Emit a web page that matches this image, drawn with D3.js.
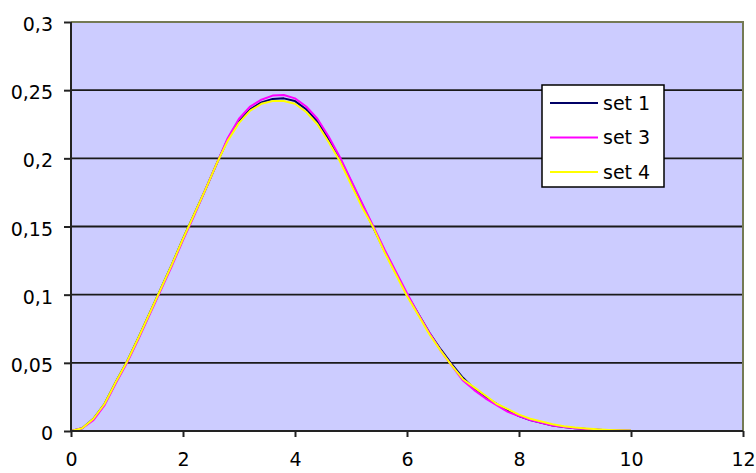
<!DOCTYPE html>
<html>
<head>
<meta charset="utf-8">
<script src="https://cdn.jsdelivr.net/npm/d3@7"></script>
<style>
  html, body { margin: 0; padding: 0; background: #ffffff; }
  svg { display: block; }
  text { font-family: "DejaVu Sans", Verdana, sans-serif; fill: #000; }
</style>
</head>
<body>
<svg id="chart" width="756" height="473"></svg>
<script>
// ---- data ----
const xValues = [0,0.2,0.4,0.6,0.8,1.0,1.2,1.4,1.6,1.8,2.0,2.2,2.4,2.6,2.8,3.0,3.2,3.4,3.6,3.8,4.0,4.2,4.4,4.6,4.8,5.0,5.2,5.4,5.6,5.8,6.0,6.2,6.4,6.6,6.8,7.0,7.2,7.4,7.6,7.8,8.0,8.2,8.4,8.6,8.8,9.0,9.2,9.4,9.6,9.8,10.0];
const set1 = [0,0.002,0.009,0.020,0.036,0.051,0.068,0.086,0.104,0.122,0.141,0.159,0.177,0.196,0.214,0.227,0.236,0.241,0.2435,0.244,0.242,0.236,0.227,0.214,0.200,0.183,0.166,0.149,0.132,0.116,0.100,0.086,0.072,0.060,0.049,0.039,0.031,0.025,0.020,0.015,0.011,0.008,0.006,0.004,0.003,0.002,0.0014,0.001,0.0006,0.0004,0.0002];
const set3 = [0,0.002,0.008,0.019,0.035,0.050,0.067,0.085,0.103,0.121,0.140,0.158,0.177,0.196,0.215,0.229,0.238,0.243,0.246,0.2465,0.244,0.238,0.229,0.216,0.201,0.184,0.167,0.150,0.133,0.117,0.101,0.086,0.072,0.059,0.048,0.037,0.030,0.024,0.019,0.014,0.011,0.008,0.006,0.004,0.003,0.002,0.0015,0.001,0.0006,0.0004,0.0002];
const set4 = [0,0.002,0.009,0.020,0.036,0.051,0.068,0.086,0.104,0.122,0.141,0.159,0.177,0.196,0.213,0.226,0.235,0.240,0.242,0.242,0.240,0.234,0.225,0.212,0.198,0.181,0.164,0.149,0.131,0.115,0.099,0.085,0.071,0.059,0.048,0.038,0.032,0.026,0.020,0.016,0.012,0.009,0.007,0.005,0.0035,0.0025,0.0018,0.0012,0.0008,0.0005,0.0003];
const seriesNames = ["set 1", "set 3", "set 4"];
const seriesColors = ["#000066", "#ff00ff", "#ffff00"];
const xTickValues = [0, 2, 4, 6, 8, 10, 12];
const xTickLabels = ["0", "2", "4", "6", "8", "10", "12"];
const yTickValues = [0, 0.05, 0.1, 0.15, 0.2, 0.25, 0.3];
const yTickLabels = ["0", "0,05", "0,1", "0,15", "0,2", "0,25", "0,3"];

// ---- layout ----
const svg = d3.select("#chart");
const L = 71, R = 743, T = 22, B = 431;
const x = d3.scaleLinear().domain([0, 12]).range([L, R]);
const y = d3.scaleLinear().domain([0, 0.3]).range([B, T]);

// plot area
svg.append("rect").attr("x", L).attr("y", T).attr("width", R - L).attr("height", B - T)
  .attr("fill", "#ccccff");

// gridlines
svg.append("g").selectAll("line").data(yTickValues.filter(v => v > 0 && v < 0.3)).join("line")
  .attr("x1", L).attr("x2", R)
  .attr("y1", d => y(d)).attr("y2", d => y(d))
  .attr("stroke", "#1a1a1a").attr("stroke-width", 1.8);

// top and right border
svg.append("path")
  .attr("d", `M${L},${y(0.3)}H${x(12)}V${y(0)}`)
  .attr("fill", "none").attr("stroke", "#747a55").attr("stroke-width", 2);

// series
const line = d3.line().x((d, i) => x(xValues[i])).y(d => y(d));
const allSeries = [set1, set3, set4];
svg.append("g").selectAll("path").data(allSeries).join("path")
  .attr("d", d => line(d))
  .attr("fill", "none")
  .attr("stroke", (d, i) => seriesColors[i])
  .attr("stroke-width", 2)
  .attr("stroke-linejoin", "round");

// axes
const yAxis = svg.append("g").attr("transform", `translate(${L},0)`)
  .call(d3.axisLeft(y).tickValues(yTickValues).tickFormat((d, i) => yTickLabels[i]).tickSize(7).tickPadding(11));
const xAxis = svg.append("g").attr("transform", `translate(0,${B})`)
  .call(d3.axisBottom(x).tickValues(xTickValues).tickFormat((d, i) => xTickLabels[i]).tickSize(6).tickPadding(16));
[yAxis, xAxis].forEach(g => {
  g.select(".domain").attr("stroke", "#222").attr("stroke-width", 2);
  g.selectAll(".tick line").attr("stroke", "#222").attr("stroke-width", 2);
  g.selectAll(".tick text").style("font-family", '"DejaVu Sans", Verdana, sans-serif')
    .style("font-size", "19px").attr("fill", "#000");
});
yAxis.select(".domain").attr("d", `M0,${B}V${T}`);
xAxis.select(".domain").attr("d", `M${L},0H${R}`);
yAxis.selectAll(".tick text").attr("dy", "0.45em");

// legend
const lg = svg.append("g");
lg.append("rect").attr("x", 542).attr("y", 85).attr("width", 122).attr("height", 102)
  .attr("fill", "#ffffff").attr("stroke", "#000").attr("stroke-width", 1.5);
seriesNames.forEach((name, i) => {
  const cy = 103 + i * 34.5;
  lg.append("line").attr("x1", 550).attr("x2", 598).attr("y1", cy).attr("y2", cy)
    .attr("stroke", seriesColors[i]).attr("stroke-width", 2);
  lg.append("text").attr("x", 603).attr("y", cy).attr("dy", "0.35em")
    .style("font-size", "19px").text(name);
});
</script>
</body>
</html>
